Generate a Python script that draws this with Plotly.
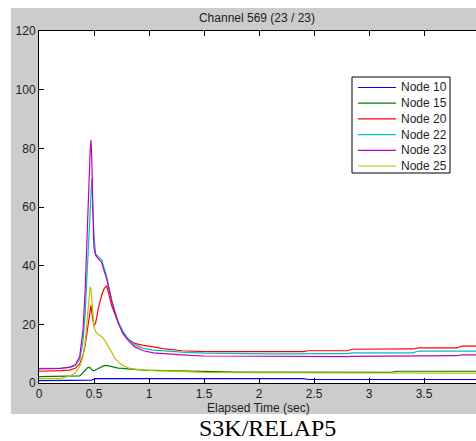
import plotly.graph_objects as go

# ---- data ----
time_s = [0, 0.1, 0.2, 0.28, 0.33, 0.37, 0.40, 0.42, 0.44, 0.455, 0.465, 0.473, 0.48,
          0.49, 0.50, 0.515, 0.54, 0.57, 0.59, 0.615, 0.64, 0.66, 0.69, 0.72, 0.76,
          0.81, 0.87, 0.95, 1.04, 1.15, 1.3, 1.5, 1.8, 2.1, 2.4, 2.45, 2.8, 2.85,
          3.2, 3.25, 3.4, 3.45, 3.8, 3.85, 4.0]

node10 = [0.8, 0.8, 0.8, 0.8, 0.8, 0.8, 0.8, 0.8, 0.9, 0.9, 0.9, 1.0, 1.0,
          1.2, 1.4, 1.5, 1.5, 1.5, 1.5, 1.5, 1.5, 1.5, 1.5, 1.5, 1.5,
          1.5, 1.5, 1.5, 1.5, 1.5, 1.5, 1.5, 1.5, 1.5, 1.5, 1.2, 1.2, 1.2,
          1.2, 1.2, 1.2, 1.2, 1.2, 1.2, 1.2]

node15 = [2.2, 2.2, 2.2, 2.3, 2.3, 2.4, 3.5, 4.5, 5.2, 5.3, 5.2, 4.8, 4.5,
          4.2, 4.2, 4.5, 5.0, 5.6, 5.9, 6.0, 5.8, 5.6, 5.3, 5.1, 5.0,
          4.8, 4.6, 4.4, 4.3, 4.2, 3.9, 3.8, 3.7, 3.7, 3.7, 3.7, 3.6, 3.6,
          3.6, 4.0, 4.0, 4.0, 4.0, 4.0, 4.0]

node20 = [4.0, 4.0, 4.2, 4.4, 5.0, 6.5, 9.5, 13.0, 18.0, 22.0, 25.5, 26.5, 24.0,
          21.0, 19.5, 20.5, 25.5, 30.0, 32.0, 33.2, 29.0, 26.5, 23.5, 20.5, 17.5,
          15.0, 13.5, 12.8, 12.3, 11.6, 11.0, 10.7, 10.7, 10.7, 10.7, 11.0, 11.0, 11.5,
          11.5, 11.6, 11.6, 12.0, 12.0, 12.6, 12.6]

node22 = [5.0, 5.0, 5.1, 5.3, 6.0, 8.0, 14.0, 24.0, 40.0, 52.0, 62.0, 68.0, 69.8,
          60.0, 50.0, 44.0, 43.0, 42.0, 39.5, 36.3, 32.0, 28.5, 24.5, 21.0, 17.8,
          15.0, 13.0, 11.8, 11.2, 10.8, 10.5, 10.2, 10.0, 9.9, 9.9, 10.0, 10.0, 10.3,
          10.3, 10.3, 10.3, 10.9, 10.9, 10.9, 10.9]

node23 = [4.8, 4.8, 5.0, 5.4, 6.2, 9.0, 18.0, 32.0, 55.0, 70.0, 79.0, 82.8, 76.0,
          58.0, 46.0, 43.5, 42.5, 41.0, 38.5, 35.5, 31.5, 28.0, 24.0, 20.5, 17.0,
          14.5, 12.3, 11.0, 10.3, 9.9, 9.6, 9.2, 9.1, 9.0, 9.0, 9.0, 9.0, 9.1,
          9.2, 9.2, 9.2, 9.2, 9.3, 9.6, 9.6]

node25 = [1.5, 1.5, 1.6, 2.4, 3.5, 5.6, 9.0, 14.0, 23.0, 29.0, 32.8, 32.0, 28.0,
          22.0, 19.0, 17.5, 16.5, 15.8, 15.0, 13.5, 12.0, 10.5, 8.5, 7.2, 6.0,
          5.2, 4.7, 4.4, 4.2, 4.1, 3.8, 3.6, 3.5, 3.5, 3.5, 3.5, 3.5, 3.4,
          3.4, 3.4, 3.4, 3.4, 3.4, 3.4, 3.4]

series_names = ["Node 10", "Node 15", "Node 20", "Node 22", "Node 23", "Node 25"]
series_values = [node10, node15, node20, node22, node23, node25]
series_colors = ["#0000ff", "#008000", "#ff0000", "#00bfbf", "#bf00bf", "#bfbf00"]

x_ticks = [0, 0.5, 1, 1.5, 2, 2.5, 3, 3.5, 4]
x_tick_labels = ["0", "0.5", "1", "1.5", "2", "2.5", "3", "3.5", "4"]
y_ticks = [0, 20, 40, 60, 80, 100, 120]

W, H = 476, 441
FONT = "Liberation Sans"
TXT = "#1e1e1e"

fig = go.Figure()
for name, vals, col in zip(series_names, series_values, series_colors):
    fig.add_trace(go.Scatter(x=time_s, y=vals, mode="lines", name=name,
                             line=dict(color=col, width=1.2), showlegend=False))

def px(x):
    return x / W

def py(y):
    return 1 - y / H

shapes = [
    # gray figure background
    dict(type="rect", xref="paper", yref="paper", x0=px(11), x1=1.0, y0=py(414), y1=py(8),
         fillcolor="#cccccc", line=dict(width=0), layer="below"),
    # white axes area
    dict(type="rect", xref="paper", yref="paper", x0=px(39), x1=1.0, y0=py(383), y1=py(31),
         fillcolor="white", line=dict(width=0), layer="below"),
    # legend box
    dict(type="rect", xref="paper", yref="paper", x0=px(352), x1=px(450), y0=py(173), y1=py(77),
         fillcolor="white", line=dict(color="black", width=1), layer="above"),
]
annotations = []
leg_y0, leg_dy = 87.5, 15.7
for i, (name, col) in enumerate(zip(series_names, series_colors)):
    yy = leg_y0 + i * leg_dy
    shapes.append(dict(type="line", xref="paper", yref="paper", x0=px(358), x1=px(396),
                       y0=py(yy), y1=py(yy), line=dict(color=col, width=1.2), layer="above"))
    annotations.append(dict(text=name, xref="paper", yref="paper", x=px(399), y=py(yy),
                            xanchor="left", yanchor="middle", showarrow=False,
                            font=dict(family=FONT, size=12, color=TXT)))

annotations.append(dict(text="Elapsed Time (sec)", xref="paper", yref="paper",
                        x=px(258), y=py(408), xanchor="center", yanchor="middle",
                        showarrow=False, font=dict(family=FONT, size=12, color=TXT)))
annotations.append(dict(text="S3K/RELAP5", xref="paper", yref="paper",
                        x=px(267), y=py(428), xanchor="center", yanchor="middle",
                        showarrow=False,
                        font=dict(family="Liberation Serif", size=24, color="black")))

fig.update_layout(
    width=W, height=H,
    autosize=False,
    margin=dict(l=0, r=0, t=0, b=0, pad=0, autoexpand=False),
    paper_bgcolor="white",
    plot_bgcolor="rgba(0,0,0,0)",
    title=dict(text="Channel 569 (23 / 23)", x=px(257), y=py(18), xanchor="center",
               yanchor="middle", xref="paper", yref="paper", automargin=False,
               font=dict(family=FONT, size=12, color=TXT)),
    shapes=shapes,
    annotations=annotations,
    showlegend=False,
    xaxis=dict(domain=[px(39), 1.0], range=[0, (W - 39) / 110.0],
               tickvals=x_ticks, ticktext=x_tick_labels, automargin=False,
               ticks="inside", ticklen=5, tickcolor="black",
               showline=True, linecolor="black", linewidth=1, mirror="ticks",
               showgrid=False, zeroline=False,
               tickfont=dict(family=FONT, size=12, color=TXT)),
    yaxis=dict(domain=[py(383), py(31)], range=[0, 120], automargin=False,
               tickvals=y_ticks, ticks="inside", ticklen=5, tickcolor="black",
               showline=True, linecolor="black", linewidth=1, mirror=False,
               showgrid=False, zeroline=False,
               tickfont=dict(family=FONT, size=12, color=TXT)),
)

fig.write_html("out.html")
